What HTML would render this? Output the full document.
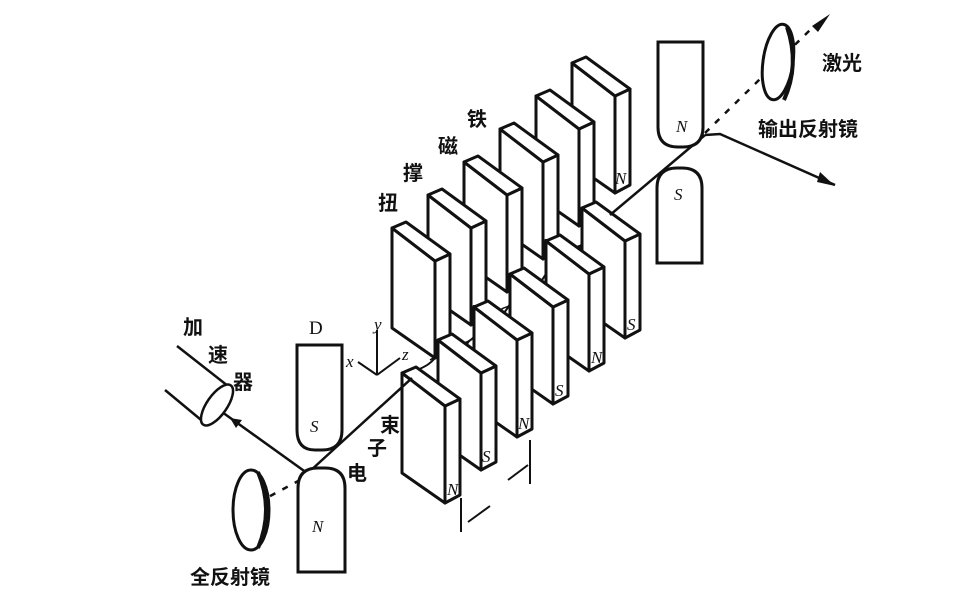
<!DOCTYPE html>
<html><head><meta charset="utf-8"><style>
html,body{margin:0;padding:0;background:#fff;}
svg{display:block}
text{font-family:"Liberation Serif","Noto Serif CJK SC","Noto Sans CJK SC",serif;fill:#111;}
.cn{font-family:"Liberation Sans","Noto Sans CJK SC",sans-serif;font-weight:bold;font-size:20px;}
.it{font-style:italic;font-size:17px;}
</style></head><body>
<svg width="968" height="600" viewBox="0 0 968 600" xmlns="http://www.w3.org/2000/svg">
<defs>
<g id="blk" stroke="#111" stroke-width="3" fill="#fff" stroke-linejoin="round">
  <polygon points="0,0 43,33 43,130 0,100"/>
  <polygon points="43,33 58,26 58,122 43,130"/>
  <polygon points="0,0 14,-6 58,26 43,33"/>
</g>
</defs>
<g>
<use href="#blk" x="572" y="63"/>
<use href="#blk" x="536" y="96"/>
<use href="#blk" x="500" y="129"/>
<use href="#blk" x="464" y="162"/>
<use href="#blk" x="428" y="195"/>
<use href="#blk" x="392" y="228"/>
</g>
<g>
<text x="615" y="184" class="it">N</text>
<text x="579" y="217" class="it">S</text>
<text x="542" y="250" class="it">N</text>
<text x="507" y="283" class="it">S</text>
<text x="471" y="316" class="it">N</text>
<text x="436" y="349" class="it">S</text>
</g>
<path d="M405,378 C420,365 425,372 440,352 C452,340 470,350 478,330 C490,318 500,325 512,300 C525,288 535,296 548,270 C560,258 570,266 584,240 C594,228 598,224 610,215" fill="none" stroke="#111" stroke-width="2"/>
<path d="M430,360 C445,350 455,365 470,340 M500,310 C515,300 525,315 540,282 M570,250 C585,240 595,250 605,225" fill="none" stroke="#111" stroke-width="1.5"/>
<g>
<use href="#blk" x="582" y="208"/>
<use href="#blk" x="546" y="241"/>
<use href="#blk" x="510" y="274"/>
<use href="#blk" x="474" y="307"/>
<use href="#blk" x="438" y="340"/>
<use href="#blk" x="402" y="373"/>
</g>
<g>
<text x="627" y="330" class="it">S</text>
<text x="591" y="363" class="it">N</text>
<text x="555" y="396" class="it">S</text>
<text x="518" y="429" class="it">N</text>
<text x="482" y="462" class="it">S</text>
<text x="447" y="495" class="it">N</text>
</g>
<g stroke="#111" stroke-width="2.5" fill="none">
<line x1="222" y1="412" x2="307" y2="473"/>
<line x1="298" y1="482" x2="412" y2="378"/>
<line x1="610" y1="215" x2="705" y2="135"/>
<polyline points="705,135 720,134 835,185"/>
<line x1="300" y1="480" x2="235" y2="515" stroke-dasharray="6,8"/>
<line x1="705" y1="133" x2="810" y2="30" stroke-dasharray="6,8"/>
</g>
<polygon points="835,186 820,172 817,182" fill="#111"/>
<polygon points="830,14 812,26 818,32" fill="#111"/>
<polygon points="230,418 242,420 236,428" fill="#111"/>
<g stroke="#111" stroke-width="2.5" fill="none">
<line x1="177" y1="346" x2="228" y2="386"/>
<line x1="165" y1="390" x2="206" y2="424"/>
<ellipse cx="217" cy="405" rx="10" ry="24" transform="rotate(35 217 405)" fill="#fff"/>
</g>
<g stroke="#111" stroke-width="3" fill="#fff">
<path d="M297,345 H342 V430 Q342,450 322,450 H315 Q297,450 297,430 Z"/>
<path d="M298,572 H345 V488 Q345,468 325,468 H318 Q298,468 298,488 Z"/>
<path d="M658,42 H703 V127 Q703,147 683,147 H678 Q658,147 658,127 Z"/>
<path d="M657,263 H702 V188 Q702,168 682,168 H677 Q657,168 657,188 Z"/>
</g>
<text x="310" y="432" class="it" font-size="19">S</text>
<text x="312" y="532" class="it" font-size="19">N</text>
<text x="676" y="132" class="it" font-size="17">N</text>
<text x="674" y="200" class="it" font-size="19">S</text>
<text x="309" y="334" font-size="19">D</text>
<g stroke="#111" fill="#fff">
<ellipse cx="251" cy="510" rx="18" ry="40" stroke-width="3"/>
<path d="M258,472 Q274,510 258,548" stroke-width="4" fill="none"/>
<ellipse cx="778" cy="62" rx="15" ry="38" stroke-width="3" transform="rotate(8 778 62)"/>
<path d="M787,27 Q800,65 784,100" stroke-width="4" fill="none"/>
</g>
<g stroke="#111" stroke-width="2" fill="none">
<line x1="377" y1="375" x2="377" y2="330"/>
<line x1="377" y1="375" x2="358" y2="362"/>
<line x1="377" y1="375" x2="400" y2="358"/>
</g>
<text x="374" y="330" class="it" font-size="14">y</text>
<text x="346" y="367" class="it" font-size="14">x</text>
<text x="402" y="360" class="it" font-size="14">z</text>
<g stroke="#111" stroke-width="2" fill="none">
<line x1="461" y1="498" x2="461" y2="532"/>
<line x1="530" y1="440" x2="530" y2="484"/>
<line x1="468" y1="522" x2="490" y2="506"/>
<line x1="508" y1="480" x2="528" y2="465"/>
</g>
<text x="183" y="334" class="cn">加</text>
<text x="208" y="362" class="cn">速</text>
<text x="233" y="389" class="cn">器</text>
<text x="378" y="210" class="cn">扭</text>
<text x="403" y="180" class="cn">撑</text>
<text x="438" y="153" class="cn">磁</text>
<text x="467" y="126" class="cn">铁</text>
<text x="380" y="432" class="cn">束</text>
<text x="367" y="455" class="cn">子</text>
<text x="347" y="480" class="cn">电</text>
<text x="190" y="584" class="cn">全反射镜</text>
<text x="822" y="70" class="cn">激光</text>
<text x="758" y="136" class="cn">输出反射镜</text>
</svg>
</body></html>
